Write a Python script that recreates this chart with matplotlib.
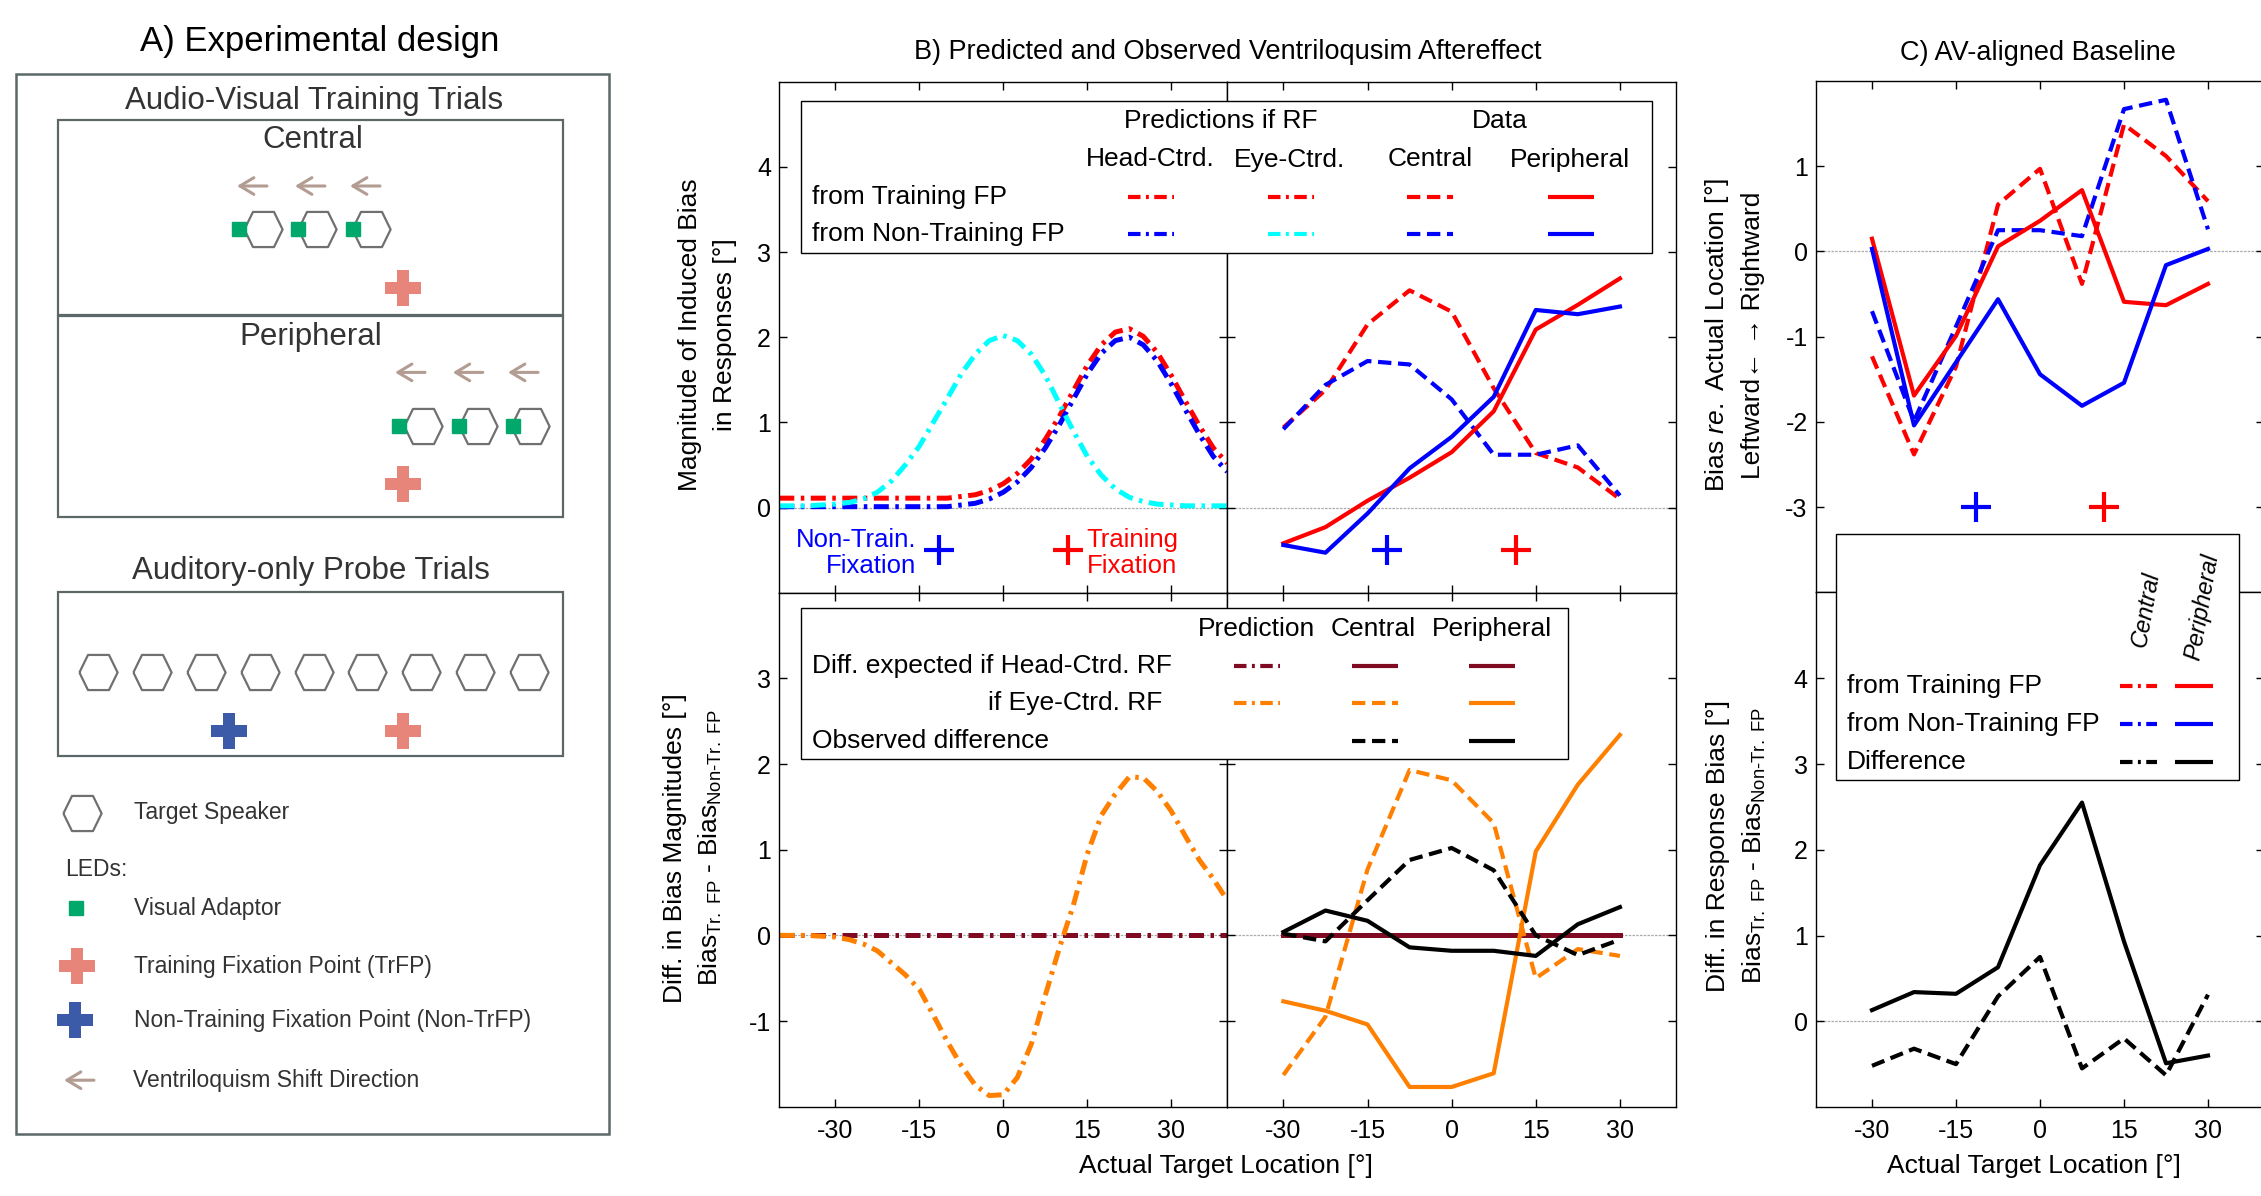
import matplotlib.pyplot as plt
import numpy as np
from matplotlib.patches import Rectangle

plt.rcParams['font.family'] = ['Liberation Sans', 'DejaVu Sans']
plt.rcParams['mathtext.fontset'] = 'custom'
plt.rcParams['mathtext.rm'] = 'Liberation Sans'
plt.rcParams['mathtext.it'] = 'Liberation Sans:italic'
plt.rcParams['mathtext.bf'] = 'Liberation Sans:bold'
plt.rcParams['axes.unicode_minus'] = False

W, H = 2261, 1196

# ---------------- data ----------------
# target speaker locations [deg] and fixation points (non-training, training)
locations = [-30, -22.5, -15, -7.5, 0, 7.5, 15, 22.5, 30]
fix_nontrain, fix_train = -11.5, 11.5

# model predictions, sampled every 2.5 deg
x_model = [-40, -37.5, -35, -32.5, -30, -27.5, -25, -22.5, -20, -17.5, -15, -12.5,
           -10, -7.5, -5, -2.5, 0, 2.5, 5, 7.5, 10, 12.5, 15, 17.5, 20, 22.5, 25,
           27.5, 30, 32.5, 35, 37.5, 40]
pred_train = [0.11, 0.11, 0.11, 0.11, 0.11, 0.11, 0.11, 0.11, 0.11, 0.11, 0.11, 0.11,
              0.11, 0.13, 0.15, 0.20, 0.28, 0.40, 0.57, 0.80, 1.07, 1.37, 1.67, 1.91,
              2.06, 2.10, 2.01, 1.82, 1.55, 1.25, 0.96, 0.70, 0.52]
pred_head_nontrain = [0.01, 0.01, 0.01, 0.01, 0.01, 0.01, 0.01, 0.01, 0.01, 0.01, 0.01,
                      0.01, 0.01, 0.03, 0.05, 0.10, 0.18, 0.30, 0.47, 0.70, 0.97, 1.27,
                      1.57, 1.81, 1.96, 2.00, 1.91, 1.72, 1.45, 1.15, 0.86, 0.60, 0.42]
pred_eye_nontrain = [0.02, 0.02, 0.02, 0.03, 0.04, 0.06, 0.10, 0.18, 0.31, 0.50, 0.72,
                     1.00, 1.28, 1.57, 1.80, 1.96, 2.02, 1.96, 1.80, 1.55, 1.22, 0.90,
                     0.60, 0.38, 0.22, 0.12, 0.07, 0.04, 0.03, 0.02, 0.02, 0.02, 0.02]
pred_eye_diff = [0.00, 0.00, 0.00, -0.01, -0.02, -0.05, -0.10, -0.18, -0.32, -0.46, -0.63,
                 -0.93, -1.24, -1.52, -1.75, -1.87, -1.86, -1.66, -1.27, -0.70, -0.15, 0.35,
                 0.95, 1.40, 1.65, 1.85, 1.84, 1.68, 1.45, 1.16, 0.88, 0.66, 0.41]
pred_head_diff = [0.0] * len(x_model)

# B) observed aftereffect
central_train = [0.94, 1.38, 2.15, 2.55, 2.30, 1.40, 0.64, 0.47, 0.10]
central_nontrain = [0.92, 1.44, 1.72, 1.68, 1.27, 0.62, 0.62, 0.73, 0.14]
periph_train = [-0.42, -0.23, 0.08, 0.35, 0.65, 1.13, 2.09, 2.38, 2.69]
periph_nontrain = [-0.44, -0.53, -0.07, 0.46, 0.83, 1.30, 2.32, 2.27, 2.36]

head_diff_loc = [0.0] * len(locations)
eye_diff_central = [-1.63, -0.95, 0.77, 1.93, 1.81, 1.31, -0.50, -0.16, -0.24]
eye_diff_periph = [-0.77, -0.88, -1.04, -1.77, -1.77, -1.61, 0.98, 1.76, 2.34]
obs_diff_central = [0.02, -0.07, 0.41, 0.88, 1.02, 0.76, 0.00, -0.23, -0.05]
obs_diff_periph = [0.04, 0.29, 0.17, -0.14, -0.18, -0.18, -0.24, 0.13, 0.33]

# C) AV-aligned baseline
base_central_train = [-1.23, -2.38, -1.35, 0.55, 0.97, -0.38, 1.49, 1.12, 0.59]
base_central_nontrain = [-0.70, -1.99, -0.88, 0.25, 0.25, 0.18, 1.67, 1.78, 0.26]
base_periph_train = [0.15, -1.69, -0.99, 0.06, 0.36, 0.72, -0.59, -0.63, -0.38]
base_periph_nontrain = [0.03, -2.04, -1.30, -0.56, -1.44, -1.81, -1.54, -0.16, 0.03]
base_diff_central = [-0.52, -0.32, -0.50, 0.29, 0.75, -0.55, -0.20, -0.63, 0.31]
base_diff_periph = [0.13, 0.34, 0.32, 0.63, 1.82, 2.55, 0.93, -0.49, -0.40]

# ---------------- styles ----------------
RED, BLUE, CYAN = '#ff0000', '#0000ff', '#00ffff'
ORANGE, MAROON, BLACK = '#ff8000', '#7f0a22', '#000000'
DASH = (0, (3.2, 1.6))
DASHDOT = (0, (3.0, 1.3, 0.7, 1.3))
LW = 3.0
LW_PRED = 3.6

fig = plt.figure(figsize=(W / 100, H / 100), dpi=100)


def box(x0, y0, x1, y1):
    return [x0 / W, 1 - y1 / H, (x1 - x0) / W, (y1 - y0) / H]


def setup(ax, ylim, yticks, xlab, ylab):
    ax.set_xlim(-40, 40)
    ax.set_ylim(*ylim)
    ax.set_xticks([-30, -15, 0, 15, 30])
    ax.set_yticks(yticks)
    ax.tick_params(direction='in', top=True, right=True, length=6, width=1,
                   labelsize=18, labelbottom=xlab, labelleft=ylab)
    ax.tick_params(axis='x', pad=9)
    ax.tick_params(axis='y', pad=6)
    ax.axhline(0, color='#aaaaaa', lw=0.9, ls=(0, (2, 1)), zorder=0)
    for s in ax.spines.values():
        s.set_linewidth(1.0)


ax_b1 = fig.add_axes(box(779.3, 81.7, 1227.3, 592.7))
ax_b2 = fig.add_axes(box(1227.3, 81.7, 1676, 592.7))
ax_b3 = fig.add_axes(box(779.3, 592.7, 1227.3, 1106.7))
ax_b4 = fig.add_axes(box(1227.3, 592.7, 1676, 1106.7))
ax_c1 = fig.add_axes(box(1816, 81, 2264, 592.5))
ax_c2 = fig.add_axes(box(1816, 592.5, 2264, 1107))

setup(ax_b1, (-1, 5), [0, 1, 2, 3, 4], False, True)
setup(ax_b2, (-1, 5), [0, 1, 2, 3, 4], False, False)
setup(ax_b3, (-2, 4), [-1, 0, 1, 2, 3], True, True)
setup(ax_b4, (-2, 4), [-1, 0, 1, 2, 3], True, False)
setup(ax_c1, (-4, 2), [-3, -2, -1, 0, 1], False, True)
setup(ax_c2, (-1, 5), [0, 1, 2, 3, 4], True, True)

# B top left: predictions
ax_b1.plot(x_model, pred_train, color=RED, lw=LW_PRED, ls=DASHDOT)
ax_b1.plot(x_model, pred_head_nontrain, color=BLUE, lw=LW_PRED, ls=DASHDOT)
ax_b1.plot(x_model, pred_eye_nontrain, color=CYAN, lw=LW_PRED, ls=DASHDOT)
ax_b1.text(-15.5, -0.53, 'Non-Train.\nFixation', color=BLUE, ha='right', va='center',
           multialignment='right', fontsize=18.5, linespacing=1.1)
ax_b1.text(14.9, -0.53, 'Training\nFixation', color=RED, ha='left', va='center',
           multialignment='left', fontsize=18.5, linespacing=1.1)

# B top right: data
ax_b2.plot(locations, central_train, color=RED, lw=LW, ls=DASH)
ax_b2.plot(locations, central_nontrain, color=BLUE, lw=LW, ls=DASH)
ax_b2.plot(locations, periph_train, color=RED, lw=LW)
ax_b2.plot(locations, periph_nontrain, color=BLUE, lw=LW)

for ax, yy in [(ax_b1, -0.5), (ax_b2, -0.5), (ax_c1, -3)]:
    ax.plot(fix_nontrain, yy, marker='+', ms=21, mew=3, color=BLUE)
    ax.plot(fix_train, yy, marker='+', ms=21, mew=3, color=RED)

# B bottom left: predicted differences
ax_b3.plot(x_model, pred_head_diff, color=MAROON, lw=LW_PRED, ls=DASHDOT)
ax_b3.plot(x_model, pred_eye_diff, color=ORANGE, lw=LW_PRED, ls=DASHDOT)

# B bottom right: differences per condition
ax_b4.plot(locations, head_diff_loc, color=MAROON, lw=LW_PRED)
ax_b4.plot(locations, eye_diff_central, color=ORANGE, lw=LW, ls=DASH)
ax_b4.plot(locations, eye_diff_periph, color=ORANGE, lw=LW)
ax_b4.plot(locations, obs_diff_central, color=BLACK, lw=LW, ls=DASH)
ax_b4.plot(locations, obs_diff_periph, color=BLACK, lw=LW)

# C: baseline
ax_c1.plot(locations, base_central_train, color=RED, lw=LW, ls=DASH)
ax_c1.plot(locations, base_central_nontrain, color=BLUE, lw=LW, ls=DASH)
ax_c1.plot(locations, base_periph_train, color=RED, lw=LW)
ax_c1.plot(locations, base_periph_nontrain, color=BLUE, lw=LW)
ax_c2.plot(locations, base_diff_central, color=BLACK, lw=LW, ls=DASH)
ax_c2.plot(locations, base_diff_periph, color=BLACK, lw=LW)

# ---------------- overlay (pixel coords) ----------------
ov = fig.add_axes([0, 0, 1, 1], zorder=10)
ov.set_xlim(0, W)
ov.set_ylim(H, 0)
ov.axis('off')


def sample(x, y, color, ls, half=23):
    ov.plot([x - half, x + half], [y, y], color=color, lw=LW, ls=ls,
            solid_capstyle='butt', dash_capstyle='butt', zorder=3)


def txt(x, y, s, size=19, **kw):
    kw.setdefault('ha', 'center')
    kw.setdefault('va', 'center')
    ov.text(x, y, s, fontsize=size, zorder=4, **kw)


# titles and labels
txt(320, 42, 'A) Experimental design', 25)
txt(1228, 52, 'B) Predicted and Observed Ventriloqusim Aftereffect', 19.5)
txt(2038, 52.5, 'C) AV-aligned Baseline', 19.5)
txt(1226, 1166, 'Actual Target Location [°]')
txt(2034, 1166, 'Actual Target Location [°]')

bias_sub = r'Bias$_{\mathrm{Tr.\ FP}}$ - Bias$_{\mathrm{Non}\text{-}\mathrm{Tr.\ FP}}$'
txt(690, 335, 'Magnitude of Induced Bias', rotation=90)
txt(725, 335, 'in Responses [°]', rotation=90)
txt(675, 848, 'Diff. in Bias Magnitudes [°]', rotation=90)
txt(710, 848, bias_sub, rotation=90)
txt(1717, 335, r'Bias $\mathit{re.}$ Actual Location [°]', rotation=90)
txt(1753, 335, 'Leftward\u2190 \u2192 Rightward', rotation=90)
txt(1718, 846, 'Diff. in Response Bias [°]', rotation=90)
txt(1754, 846, bias_sub, rotation=90)

# legend B top
ov.add_patch(Rectangle((800.7, 101), 1652 - 800.7, 253 - 101, fc='white', ec='black',
                       lw=1.0, zorder=2))
txt(1221, 121, 'Predictions if RF')
txt(1499.5, 121, 'Data')
for xc, s in zip([1150, 1289, 1430, 1570], ['Head-Ctrd.', 'Eye-Ctrd.', 'Central', 'Peripheral']):
    txt(xc, 159.5, s)
txt(811.7, 197, 'from Training FP', ha='left')
txt(811.7, 234, 'from Non-Training FP', ha='left')
for xc, c, ls in zip([1151, 1290.5, 1430, 1571], [RED, RED, RED, RED], [DASHDOT, DASHDOT, DASH, '-']):
    sample(xc, 197, c, ls)
for xc, c, ls in zip([1151, 1290.5, 1430, 1571], [BLUE, CYAN, BLUE, BLUE], [DASHDOT, DASHDOT, DASH, '-']):
    sample(xc, 234, c, ls)

# legend B bottom
ov.add_patch(Rectangle((801, 607.7), 1568.3 - 801, 759.3 - 607.7, fc='white', ec='black',
                       lw=1.0, zorder=2))
for xc, s in zip([1256.7, 1373, 1492.2], ['Prediction', 'Central', 'Peripheral']):
    txt(xc, 629.3, s)
txt(811.5, 666, 'Diff. expected if Head-Ctrd. RF', ha='left')
txt(988.3, 702.7, 'if Eye-Ctrd. RF', ha='left')
txt(811.5, 741, 'Observed difference', ha='left')
cols = [1257, 1374.7, 1492.3]
for xc, ls in zip(cols, [DASHDOT, '-', '-']):
    sample(xc, 666, MAROON, ls)
for xc, ls in zip(cols, [DASHDOT, DASH, '-']):
    sample(xc, 702.7, ORANGE, ls)
for xc, ls in zip(cols[1:], [DASH, '-']):
    sample(xc, 741, BLACK, ls)

# legend C
ov.add_patch(Rectangle((1836.3, 534), 2239 - 1836.3, 780.3 - 534, fc='white', ec='black',
                       lw=1.0, zorder=2))
txt(2146, 609.5, 'Central', 17, rotation=80, style='italic')
txt(2202, 607, 'Peripheral', 17, rotation=80, style='italic')
for yy, s, c in zip([685.8, 724.3, 761.6], ['from Training FP', 'from Non-Training FP', 'Difference'],
                    [RED, BLUE, BLACK]):
    txt(1847.3, yy, s, ha='left')
    sample(2138.7, yy, c, DASHDOT, half=18.5)
    sample(2194.3, yy, c, '-', half=19)

# ---------------- panel A: experimental design ----------------
EDGE, TXT = '#5c6868', '#333333'
GREEN, SALMON, NAVY, TAN = '#00a86b', '#e8857b', '#3b5aa8', '#b39c92'
hexv = [(-1, 0), (-0.55, 0.92), (0.55, 0.92), (1, 0), (0.55, -0.92), (-0.55, -0.92), (-1, 0)]

ov.add_patch(Rectangle((15.7, 73.5), 609 - 15.7, 1134 - 73.5, fill=False, ec=EDGE, lw=1.8))
ov.add_patch(Rectangle((58.2, 120.3), 562.7 - 58.2, 315.5 - 120.3, fill=False, ec=EDGE, lw=1.6))
ov.add_patch(Rectangle((58.2, 315.5), 562.7 - 58.2, 517.4 - 315.5, fill=False, ec=EDGE, lw=1.6))
ov.add_patch(Rectangle((58.2, 592), 562.7 - 58.2, 756 - 592, fill=False, ec=EDGE, lw=1.6))

txt(314, 101.5, 'Audio-Visual Training Trials', 22.5, color=TXT)
txt(313, 140, 'Central', 22.5, color=TXT)
txt(311, 337, 'Peripheral', 22.5, color=TXT)
txt(311.4, 571, 'Auditory-only Probe Trials', 22.5, color=TXT)


def arrow(x, y):
    ov.annotate('', xy=(x - 15, y), xytext=(x + 15, y),
                arrowprops=dict(arrowstyle='->,head_length=0.5,head_width=0.3', color=TAN,
                                lw=2.2, mutation_scale=20, shrinkA=0, shrinkB=0))


def speaker(xs, y):
    ov.plot(xs, [y] * len(xs), ls='none', marker=hexv, ms=27.5, mfc='white',
            mec='#707070', mew=1.6, zorder=3)


def led(xs, y):
    ov.plot(xs, [y] * len(xs), ls='none', marker='s', ms=10, mfc=GREEN, mec=GREEN, zorder=4)


def cross(x, y, color):
    ov.plot([x], [y], ls='none', marker='P', ms=26, mfc=color, mec=color, mew=0, zorder=4)


# central training
for xa in [252, 310, 365]:
    arrow(xa, 186)
speaker([263, 317, 370.5], 228.5)
led([239, 298.3, 352.5], 229)
cross(402.8, 287.8, SALMON)
# peripheral training
for xa in [410, 467.8, 523]:
    arrow(xa, 372.4)
speaker([423, 477.5, 530], 426)
led([399.4, 458.7, 512.8], 426)
cross(402.5, 484.2, SALMON)
# probe trials
speaker(list(np.linspace(98, 529, 9)), 672.3)
cross(229.3, 731.3, NAVY)
cross(402.5, 731.3, SALMON)

# key
speaker([81.9], 813)
txt(133.5, 813, 'Target Speaker', 16.5, ha='left', color=TXT)
txt(65.2, 869, 'LEDs:', 16.5, ha='left', color=TXT)
led([76.3], 908)
txt(134.4, 908, 'Visual Adaptor', 16.5, ha='left', color=TXT)
cross(77.1, 966.2, SALMON)
txt(134.4, 966.2, 'Training Fixation Point (TrFP)', 16.5, ha='left', color=TXT)
cross(75.1, 1020, NAVY)
txt(134.4, 1020, 'Non-Training Fixation Point (Non-TrFP)', 16.5, ha='left', color=TXT)
arrow(79, 1080.2)
txt(133.3, 1080.2, 'Ventriloquism Shift Direction', 16.5, ha='left', color=TXT)

fig.savefig('out.png', dpi=100)
